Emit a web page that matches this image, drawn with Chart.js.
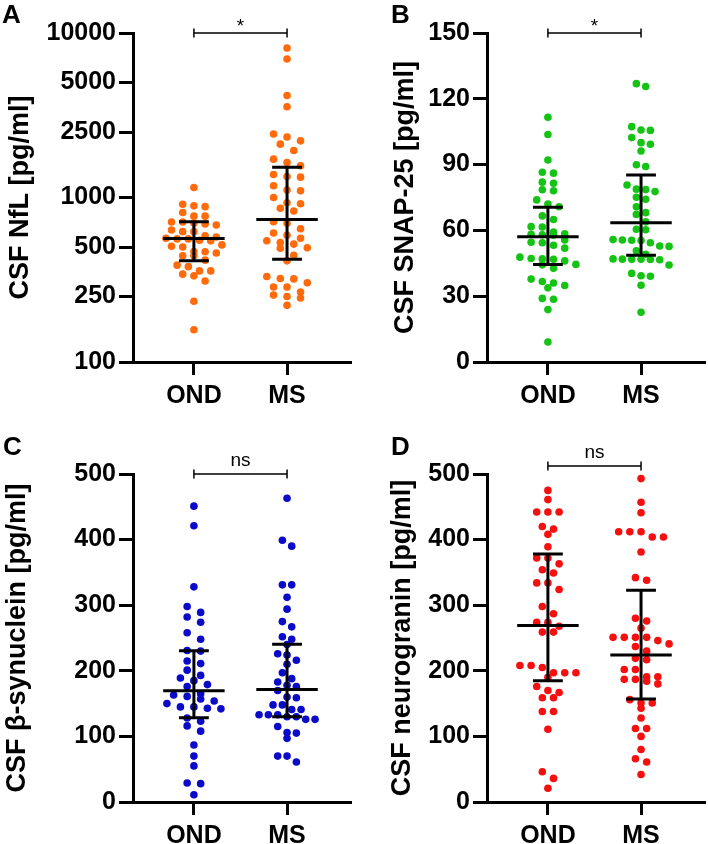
<!DOCTYPE html>
<html>
<head>
<meta charset="utf-8">
<script src="https://cdn.jsdelivr.net/npm/chart.js@4.4.1/dist/chart.umd.min.js"></script>
<style>
  html, body { margin: 0; padding: 0; background: #fff; }
  #wrap { position: relative; width: 708px; height: 844px; }
  canvas { position: absolute; }
</style>
</head>
<body>
<div id="wrap">
  <canvas id="cA" width="354" height="422" style="left:0;top:0"></canvas>
  <canvas id="cB" width="354" height="422" style="left:354px;top:0"></canvas>
  <canvas id="cC" width="354" height="422" style="left:0;top:422px"></canvas>
  <canvas id="cD" width="354" height="422" style="left:354px;top:422px"></canvas>
</div>
<script>
const groups = ['OND', 'MS'];

// A - NfL (log scale)
const nflOnd = [1150, 910, 890, 880, 810, 770, 770, 710, 710, 700, 690, 680, 635, 620, 620, 585, 575, 565,
  560, 560, 550, 545, 515, 505, 500, 470, 468, 460, 442, 442, 416, 388, 380, 358, 358, 342, 334, 311, 234, 157];
const nflMs = [8100, 6950, 4170, 3560, 2430, 2330, 2210, 2110, 1930, 1710, 1630, 1560, 1380, 1340, 1330, 1180,
  1110, 1100, 1000, 930, 917, 860, 827, 713, 697, 646, 608, 590, 565, 546, 533, 521, 495, 491, 445, 412, 331,
  322, 320, 303, 286, 286, 266, 255, 250, 245, 221];
const nflOndIqr = [413, 564, 713];   // q1, median, q3
const nflMsIqr = [422, 736, 1528];
const nflTicks = [100, 250, 500, 1000, 2500, 5000, 10000];

// B - SNAP-25
const snapOnd = [111.6, 103.7, 92.1, 86.1, 86.5, 82.0, 81.5, 78.1, 78.5, 73.9, 72.0, 70.8, 66.6, 65.0, 61.7,
  61.5, 59.2, 58.2, 58.5, 57.8, 58.0, 55.6, 54.4, 54.6, 53.2, 51.9, 47.8, 47.0, 47.2, 46.8, 46.1, 44.3, 44.5,
  42.7, 37.8, 36.7, 36.0, 34.9, 33.8, 29.0, 28.6, 23.9, 9.1];
const snapMs = [126.9, 125.6, 107.3, 105.8, 105.6, 102.3, 100.0, 99.3, 96.2, 89.9, 89.1, 80.7, 78.8, 78.6,
  77.7, 75.1, 74.2, 70.8, 68.1, 67.3, 63.9, 60.5, 60.3, 55.6, 55.4, 55.8, 55.5, 54.4, 52.9, 52.7, 50.7, 49.1,
  46.8, 46.9, 46.7, 46.8, 46.6, 47.0, 44.2, 40.4, 39.3, 39.1, 35.0, 22.7];
const snapOndIqr = [44.5, 57.1, 70.5];
const snapMsIqr = [48.7, 63.5, 85.3];
const snapTicks = [0, 30, 60, 90, 120, 150];

// C - beta-synuclein
const synOnd = [451, 421, 328, 298, 289, 282, 274, 258, 248, 231, 230, 215, 211, 201, 193, 189, 185, 179, 176,
  165, 163, 161, 157, 154, 150, 145, 145, 143, 142, 128, 123, 116, 108, 87, 70, 55, 29, 28, 11];
const synMs = [463, 399, 390, 331, 331, 312, 294, 275, 267, 252, 248, 240, 226, 224, 216, 210, 197, 188, 183,
  178, 176, 170, 160, 159, 148, 148, 141, 141, 133, 133, 133, 130, 130, 126, 126, 115, 106, 105, 97, 70, 70, 61];
const synOndIqr = [128.4, 169.5, 230.5];
const synMsIqr = [130, 171.6, 240.6];
const synTicks = [0, 100, 200, 300, 400, 500];

// D - neurogranin
const ngOnd = [475, 461, 442, 442, 442, 420, 416, 408, 389, 372, 372, 363, 354, 349, 334, 334, 324, 298, 287,
  274, 274, 268, 259, 259, 208, 208, 205, 197, 197, 197, 190, 176, 170, 167, 159, 159, 138, 138, 111, 46, 36, 21];
const ngMs = [493, 457, 441, 412, 412, 412, 404, 404, 381, 342, 338, 280, 276, 265, 251, 251, 251, 251, 246, 241,
  237, 230, 219, 217, 202, 202, 191, 191, 187, 187, 184, 180, 156, 151, 151, 143, 128, 112, 112, 100, 80, 66, 61, 42];
const ngOndIqr = [185, 269, 378];
const ngMsIqr = [157, 224, 322.6];
const ngTicks = [0, 100, 200, 300, 400, 500];

const FONT = '"Liberation Sans", Arial, Helvetica, sans-serif';
const X_MIN = 0.346, X_MAX = 2.676;

// medians, IQR bars, significance bracket and panel letter
const extrasPlugin = {
  id: 'extras',
  afterDatasetsDraw(chart, args, opts) {
    const { ctx, chartArea, scales: { x, y } } = chart;
    ctx.save();
    ctx.strokeStyle = '#000';
    ctx.fillStyle = '#000';
    opts.stats.forEach((st, i) => {
      const cx = x.getPixelForValue(i + 1);
      const [q1, med, q3] = st.map(v => y.getPixelForValue(v));
      const mw = x.getPixelForValue(i + 1.33) - cx;
      const cw = x.getPixelForValue(i + 1.16) - cx;
      ctx.lineWidth = 3;
      ctx.beginPath();
      ctx.moveTo(cx, q1); ctx.lineTo(cx, q3);
      ctx.moveTo(cx - cw, q1); ctx.lineTo(cx + cw, q1);
      ctx.moveTo(cx - cw, q3); ctx.lineTo(cx + cw, q3);
      ctx.moveTo(cx - mw, med); ctx.lineTo(cx + mw, med);
      ctx.stroke();
    });
    const x1 = x.getPixelForValue(1), x2 = x.getPixelForValue(2);
    const by = chartArea.top - opts.bracketUp;
    ctx.lineWidth = 1.5;
    ctx.beginPath();
    ctx.moveTo(x1, by - 4.5); ctx.lineTo(x1, by + 4.5);
    ctx.moveTo(x1, by); ctx.lineTo(x2, by);
    ctx.moveTo(x2, by - 4.5); ctx.lineTo(x2, by + 4.5);
    ctx.stroke();
    ctx.textAlign = 'center';
    ctx.textBaseline = 'alphabetic';
    ctx.font = '19px ' + FONT;
    ctx.fillText(opts.sig, (x1 + x2) / 2, by - (opts.sig === '*' ? 1 : 8));
    ctx.textAlign = 'left';
    ctx.font = 'bold 26px ' + FONT;
    ctx.fillText(opts.letter, opts.letterX, opts.letterY);
    ctx.restore();
  }
};

// Prism-style scatter: bin the dots into rows, spread each row evenly around the centre
function swarm(values, center, xs, ys) {
  const binH = 7.5, maxGap = 13.5, maxWidth = 56;
  const unit = xs.getPixelForValue(2) - xs.getPixelForValue(1);
  const pts = values.map((v, i) => ({ i, py: ys.getPixelForValue(v) })).sort((a, b) => a.py - b.py);
  const bins = [];
  pts.forEach(p => {
    const last = bins[bins.length - 1];
    if (last && p.py - last[0].py < binH) last.push(p); else bins.push([p]);
  });
  const nMax = Math.max(...bins.map(b => b.length));
  const gap = nMax > 1 ? Math.min(maxGap, maxWidth / (nMax - 1)) : maxGap;
  const out = new Array(values.length);
  bins.forEach(b => {
    b.forEach((p, j) => {
      const dx = (j - (b.length - 1) / 2) * gap;
      out[p.i] = { x: center + dx / unit, y: values[p.i] };
    });
  });
  return out;
}

function makePanel(id, p) {
  const axisGrid = { display: true, drawOnChartArea: false, drawTicks: true, lineWidth: 3, color: '#000' };
  const axisBorder = { display: true, width: 3, color: '#000' };
  const tickFont = { family: FONT, size: 25, weight: 'bold' };
  const chart = new Chart(document.getElementById(id), {
    type: 'scatter',
    data: {
      datasets: [
        { data: p.ond.map(v => ({ x: 1, y: v })), backgroundColor: p.color, pointRadius: 3.8, pointBorderWidth: 0 },
        { data: p.ms.map(v => ({ x: 2, y: v })), backgroundColor: p.color, pointRadius: 3.8, pointBorderWidth: 0 }
      ]
    },
    options: {
      responsive: false,
      animation: false,
      devicePixelRatio: 1,
      layout: { padding: { top: p.top, right: 1, bottom: 0, left: 0 } },
      plugins: {
        legend: { display: false },
        tooltip: { enabled: false },
        extras: { stats: [p.ondIqr, p.msIqr], sig: p.sig, letter: p.letter,
          letterX: p.letterX, letterY: p.letterY, bracketUp: p.bracketUp || 0 }
      },
      scales: {
        x: {
          type: 'linear', min: X_MIN, max: X_MAX,
          afterBuildTicks: s => { s.ticks = [{ value: 1 }, { value: 2 }]; },
          afterFit: s => { s.height = p.xAxisH; },
          ticks: { callback: v => groups[v - 1], font: tickFont, color: '#000', padding: 6, maxRotation: 0, autoSkip: false },
          grid: Object.assign({ tickLength: 13 }, axisGrid),
          border: axisBorder
        },
        y: {
          type: p.log ? 'logarithmic' : 'linear',
          min: p.ticks[0], max: p.ticks[p.ticks.length - 1],
          afterBuildTicks: s => { s.ticks = p.ticks.map(v => ({ value: v })); },
          afterFit: s => { s.width = 133; },
          ticks: { callback: v => String(v), font: tickFont, color: '#000', padding: 3, autoSkip: false },
          grid: Object.assign({ tickLength: 14 }, axisGrid),
          border: axisBorder,
          title: { display: true, text: p.title, color: '#000',
            font: { family: FONT, size: 27, weight: 'bold' }, padding: { top: p.titlePad, bottom: 0 } }
        }
      }
    },
    plugins: [extrasPlugin]
  });
  chart.data.datasets[0].data = swarm(p.ond, 1, chart.scales.x, chart.scales.y);
  chart.data.datasets[1].data = swarm(p.ms, 2, chart.scales.x, chart.scales.y);
  chart.update('none');
}

makePanel('cA', { ond: nflOnd, ms: nflMs, ondIqr: nflOndIqr, msIqr: nflMsIqr, ticks: nflTicks, log: true,
  color: '#ff6a0a', title: 'CSF NfL [pg/ml]', sig: '*', letter: 'A', letterX: 2, letterY: 23,
  top: 33, xAxisH: 60, titlePad: 4 });
makePanel('cB', { ond: snapOnd, ms: snapMs, ondIqr: snapOndIqr, msIqr: snapMsIqr, ticks: snapTicks,
  color: '#14c314', title: 'CSF SNAP-25 [pg/ml]', sig: '*', letter: 'B', letterX: 37, letterY: 23,
  top: 33, xAxisH: 60, titlePad: 35 });
makePanel('cC', { ond: synOnd, ms: synMs, ondIqr: synOndIqr, msIqr: synMsIqr, ticks: synTicks,
  color: '#0a0ac8', title: 'CSF \u03b2-synuclein [pg/ml]', sig: 'ns', letter: 'C', letterX: 3, letterY: 33,
  top: 52, xAxisH: 42, titlePad: 1 });
makePanel('cD', { ond: ngOnd, ms: ngMs, ondIqr: ngOndIqr, msIqr: ngMsIqr, ticks: ngTicks,
  color: '#f50f0f', title: 'CSF neurogranin [pg/ml]', sig: 'ns', letter: 'D', letterX: 37, letterY: 33,
  top: 52, xAxisH: 42, titlePad: 32, bracketUp: 8 });
</script>
</body>
</html>
